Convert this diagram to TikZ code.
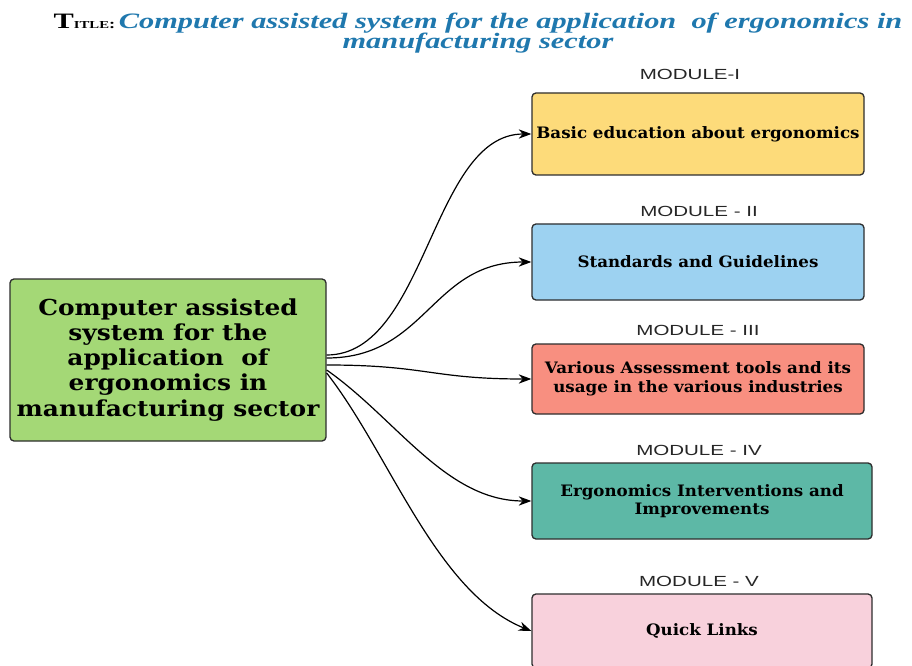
\documentclass[tikz,border=0pt]{standalone}
\usepackage{fontspec}
\setmainfont{Liberation Serif}
\newfontfamily\titlefont{Liberation Serif}[FakeStretch=1.38]
\newfontfamily\boxfont{DejaVu Serif}[FakeStretch=1.06]
\newfontfamily\mainboxfont{DejaVu Serif}[FakeStretch=1.13]
\newfontfamily\labfont{Liberation Sans}[FakeStretch=1.4]
\usetikzlibrary{arrows.meta}

\definecolor{titleblue}{HTML}{1F78AE}
\definecolor{edge}{HTML}{2E2E2E}
\definecolor{cgreen}{HTML}{A4D876}
\definecolor{cyellow}{HTML}{FDDB7A}
\definecolor{cblue}{HTML}{9DD2F1}
\definecolor{csalmon}{HTML}{F88F80}
\definecolor{cteal}{HTML}{5DB8A6}
\definecolor{cpink}{HTML}{F8D1DC}

\tikzset{
  modbox/.style={draw=edge, line width=1pt, rounded corners=3pt, align=center,
    font=\boxfont\bfseries\fontsize{11.8}{14}\selectfont, text=black, inner sep=2pt},
  modlabel/.style={font=\labfont\fontsize{11}{13}\selectfont, text=black!85},
  link/.style={line width=0.9pt, -{Stealth[length=9.5pt,width=7pt]}}
}

\begin{document}
\begin{tikzpicture}[x=0.75pt,y=-0.75pt]
\useasboundingbox (0,0) rectangle (912,666);
\fill[white] (0,0) rectangle (912,666);

% heading
\node[align=center, font=\titlefont\fontsize{16.5}{15}\selectfont, inner sep=0pt] (title) at (478,33)
  {\textbf{T{\fontsize{8}{10}\selectfont ITLE}{\fontsize{10}{10}\selectfont:}}\,{\color{titleblue}\bfseries\itshape Computer assisted system for the application\ \ of ergonomics in}\\[-1pt]
   {\color{titleblue}\bfseries\itshape manufacturing sector}};

% central topic
\node[modbox, fill=cgreen, minimum width=237pt, minimum height=121.5pt,
      font=\mainboxfont\bfseries\fontsize{16.5}{18.8}\selectfont] (g) at (168,360)
  {Computer assisted\\system for the\\application\ \ of\\ergonomics in\\manufacturing sector};

% modules
\node[modbox, fill=cyellow, minimum width=249pt, minimum height=61.5pt] (m1) at (698,134)
  {Basic education about ergonomics};
\node[modbox, fill=cblue, minimum width=249pt, minimum height=57pt] (m2) at (698,262)
  {Standards and Guidelines};
\node[modbox, fill=csalmon, minimum width=249pt, minimum height=52.5pt] (m3) at (698,379)
  {Various Assessment tools and its\\usage in the various industries};
\node[modbox, fill=cteal, minimum width=255pt, minimum height=57pt] (m4) at (702,501)
  {Ergonomics Interventions and\\Improvements};
\node[modbox, fill=cpink, minimum width=255pt, minimum height=55.5pt] (m5) at (702,631)
  {Quick Links};

% module captions
\node[modlabel] (l1) at (690,74) {MODULE-I};
\node[modlabel] (l2) at (699,211) {MODULE - II};
\node[modlabel] (l3) at (698,330) {MODULE - III};
\node[modlabel] (l4) at (699,450) {MODULE - IV};
\node[modlabel] (l5) at (699,581) {MODULE - V};

% connectors
\draw[link] ([yshift=3.75pt]g.east) .. controls +(75pt,0) and +(-75pt,0) .. (m1.west);
\draw[link] ([yshift=1.5pt]g.east) .. controls +(75pt,0) and +(-75pt,0) .. (m2.west);
\draw[link] ([yshift=-3.75pt]g.east) .. controls +(75pt,0) and +(-75pt,0) .. (m3.west);
\draw[link] ([yshift=-7.5pt]g.east) to[out=-35,in=180,looseness=0.9] (m4.west);
\draw[link] ([yshift=-9.75pt]g.east) to[out=-52,in=158,looseness=0.8] (m5.west);
\end{tikzpicture}
\end{document}
